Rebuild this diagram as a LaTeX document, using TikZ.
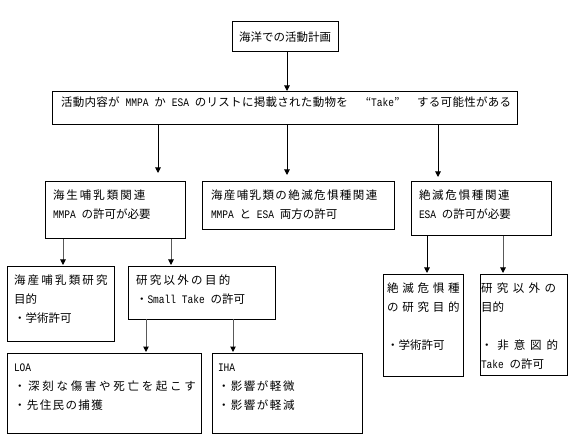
\documentclass[tikz,border=0pt]{standalone}
\usepackage{fontspec}
\setmainfont{Noto Sans CJK JP}
\newfontfamily\latf{Liberation Mono}[FakeStretch=0.83]
\usetikzlibrary{arrows.meta}
\newcommand\la[1]{{\latf #1}}
\def\trk#1#2{\def\trkamt{#1}\trkloop#2\relax}
\def\trkloop#1{\ifx\relax#1\else#1\kern\trkamt\relax\expandafter\trkloop\fi}
\begin{document}
\begin{tikzpicture}[x=1pt,y=-1pt,
  box/.style={draw=black,line width=1pt,inner sep=0pt,outer sep=0pt,anchor=north west},
  txt/.style={anchor=north west,inner sep=0pt,outer sep=0pt,align=left,font=\fontsize{11.5}{19}\selectfont},
  arr/.style={line width=1pt,draw=black,-{Triangle[length=5.5pt,width=5.5pt]}},
  garr/.style={line width=1pt,draw=black!65,-{Triangle[length=5.5pt,width=5.5pt,color=black]}}
]
\fill[white] (0,0) rectangle (575,443);
\useasboundingbox (0,0) rectangle (575,443);
% boxes
\node[box,minimum width=106pt,minimum height=30pt,font=\fontsize{11.5}{19}\selectfont] (top) at (232,22) {海洋での活動計画};
\node[box,minimum width=465pt,minimum height=33pt] (big) at (52,92) {};
\node[box,minimum width=140pt,minimum height=57pt] (mmpa) at (45,182) {};
\node[box,minimum width=192pt,minimum height=48pt] (mid) at (202,182) {};
\node[box,minimum width=140pt,minimum height=54pt] (rgt) at (411,182) {};
\node[box,minimum width=107pt,minimum height=74pt] (res1) at (7,267) {};
\node[box,minimum width=147pt,minimum height=52pt] (oth1) at (128,267) {};
\node[box,minimum width=194pt,minimum height=80pt] (loa) at (7,353) {};
\node[box,minimum width=150pt,minimum height=80pt] (iha) at (212,353) {};
\node[box,minimum width=80pt,minimum height=101pt] (res2) at (383,275) {};
\node[box,minimum width=87pt,minimum height=100pt] (oth2) at (480,275) {};
% texts
\node[txt] (tbig) at (61,93.1) {\strut\trk{0.3pt}{活動内容が}\la{ MMPA }\trk{0.3pt}{か}\la{ ESA }\trk{0.3pt}{のリストに掲載された動物を}\makebox[23pt][r]{“}\la{Take}\makebox[23pt][l]{”}\trk{0.3pt}{する可能性がある}};
\node[txt] (tmmpa) at (53,186.1) {\strut\trk{2pt}{海生哺乳類関連}\\\strut\la{MMPA }の許可が必要};
\node[txt] (tmid) at (211,186.1) {\strut\trk{1.4pt}{海産哺乳類の絶滅危惧種関連}\\\strut\la{MMPA }と\la{ ESA }両方の許可};
\node[txt] (trgt) at (419,186.1) {\strut\trk{1.7pt}{絶滅危惧種関連}\\\strut\la{ESA }の許可が必要};
\node[txt] (tres1) at (14,271.1) {\strut\trk{2.2pt}{海産哺乳類研究}\\\strut 目的\\\strut ・学術許可};
\node[txt] (toth1) at (136,271.1) {\strut\trk{2.3pt}{研究以外の目的}\\\strut ・\la{Small Take }の許可};
\node[txt] (tloa) at (14,358.1) {\strut\la{LOA}\\\strut\trk{2.7pt}{・深刻な傷害や死亡を起こす}\\\strut\trk{1.4pt}{・先住民の捕獲}};
\node[txt] (tiha) at (218,358.1) {\strut\la{IHA}\\\strut\trk{1.5pt}{・影響が軽微}\\\strut\trk{1.5pt}{・影響が軽減}};
\node[txt] (tres2) at (387,279.1) {\strut\trk{3.8pt}{絶滅危惧種}\\\strut\trk{3.8pt}{の研究目的}\\\strut\\\strut ・学術許可};
\node[txt] (toth2) at (481,279.1) {\strut\trk{4.4pt}{研究以外の}\\\strut 目的\\\strut\\\strut\trk{4.9pt}{・非意図的}\\\strut\la{Take }の許可};
% arrow x positions
\coordinate (xa) at (287,0);
\coordinate (xb) at (158,0);
\coordinate (xc) at (438,0);
\coordinate (xd) at (63,0);
\coordinate (xe) at (171,0);
\coordinate (xf) at (146,0);
\coordinate (xg) at (233,0);
\coordinate (xh) at (427,0);
\coordinate (xi) at (503,0);
% connectors
\draw[arr,shorten >=1pt] (top.south -| xa) -- (big.north -| xa);
\draw[arr,shorten >=9pt] (big.south -| xb) -- (mmpa.north -| xb);
\draw[arr,shorten >=7pt] (big.south -| xa) -- (mid.north -| xa);
\draw[arr,shorten >=5pt] (big.south -| xc) -- (rgt.north -| xc);
\draw[garr,shorten >=2pt] (mmpa.south -| xd) -- (res1.north -| xd);
\draw[garr,shorten >=2pt] (mmpa.south -| xe) -- (oth1.north -| xe);
\draw[garr,shorten >=1pt] (oth1.south -| xf) -- (loa.north -| xf);
\draw[garr,shorten >=1pt] (oth1.south -| xg) -- (iha.north -| xg);
\draw[arr,shorten >=2pt] (rgt.south -| xh) -- (res2.north -| xh);
\draw[garr,shorten >=2pt] (rgt.south -| xi) -- (oth2.north -| xi);
\end{tikzpicture}
\end{document}
